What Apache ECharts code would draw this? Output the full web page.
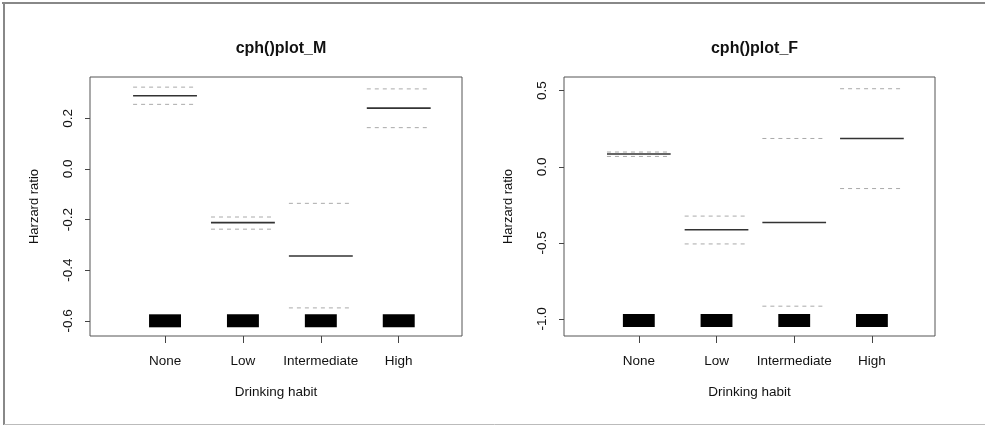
<!DOCTYPE html>
<html>
<head>
<meta charset="utf-8">
<script src="https://cdn.jsdelivr.net/npm/echarts@6/dist/echarts.min.js"></script>
<style>
html,body{margin:0;padding:0;background:#fff;}
#c{width:985px;height:425px;}
</style>
</head>
<body>
<div id="c"></div>
<script>
// ---- data ----
const categories = ['None', 'Low', 'Intermediate', 'High'];
const catPos = [1, 2, 3, 4];

const titles = ['cph()plot_M', 'cph()plot_F'];

const mEst   = [0.289, -0.212, -0.344, 0.240];
const mLower = [0.255, -0.238, -0.549, 0.163];
const mUpper = [0.323, -0.190, -0.136, 0.316];
const mBar   = [-0.6, -0.6, -0.6, -0.6];

const fEst   = [0.084, -0.414, -0.366, 0.186];
const fLower = [0.068, -0.507, -0.916, -0.143];
const fUpper = [0.097, -0.324, 0.186, 0.513];
const fBar   = [-1.01, -1.01, -1.01, -1.01];

const mYTicks = [-0.6, -0.4, -0.2, 0.0, 0.2];
const fYTicks = [-1.0, -0.5, 0.0, 0.5];
const mYRange = [-0.66, 0.363];
const fYRange = [-1.112, 0.59];
const xRange = [0.037, 4.812];

const xName = 'Drinking habit';
const yName = 'Harzard ratio';

// ---- rendering ----
const FONT = '"Liberation Sans", Arial, Helvetica, sans-serif';
const SEG_HALF = 0.41;
const BAR_HALF = 0.205;
const BAR_H = 13;

function segRender(color, width, dash) {
  return function (params, api) {
    const x = api.value(0), y = api.value(1);
    const p1 = api.coord([x - SEG_HALF, y]);
    const p2 = api.coord([x + SEG_HALF, y]);
    return {
      type: 'line',
      shape: { x1: p1[0], y1: p1[1], x2: p2[0], y2: p2[1] },
      style: { stroke: color, lineWidth: width, lineDash: dash || null }
    };
  };
}
function barRender(params, api) {
  const x = api.value(0), y = api.value(1);
  const a = api.coord([x - BAR_HALF, y]);
  const b = api.coord([x + BAR_HALF, y]);
  return {
    type: 'rect',
    shape: { x: a[0], y: a[1] - BAR_H / 2, width: b[0] - a[0], height: BAR_H },
    style: { fill: '#000' }
  };
}
function pts(vals) { return catPos.map((c, i) => [c, vals[i]]); }

const grids = [
  { left: 90, top: 77, width: 372, height: 259 },
  { left: 564, top: 77, width: 371, height: 259 }
];

function xAxisFor(gi) {
  return {
    type: 'value', gridIndex: gi, min: xRange[0], max: xRange[1], position: 'bottom',
    name: xName, nameLocation: 'middle', nameGap: 49,
    nameTextStyle: { fontFamily: FONT, fontSize: 13.5, color: '#111' },
    axisLine: { show: false, onZero: false },
    splitLine: { show: false },
    axisTick: { show: true, length: 7, lineStyle: { color: '#444', width: 1 }, customValues: catPos },
    axisLabel: {
      show: true, margin: 18, fontFamily: FONT, fontSize: 13.5, color: '#111',
      customValues: catPos,
      formatter: v => { const i = catPos.indexOf(Math.round(v)); return i >= 0 ? categories[i] : ''; }
    }
  };
}
function yAxisFor(gi, range, ticks) {
  return {
    type: 'value', gridIndex: gi, min: range[0], max: range[1], position: 'left',
    name: yName, nameLocation: 'middle', nameGap: 49, nameRotate: 90,
    nameTextStyle: { fontFamily: FONT, fontSize: 13, color: '#111' },
    axisLine: { show: false, onZero: false },
    splitLine: { show: false },
    axisTick: { show: true, length: 5, lineStyle: { color: '#444', width: 1 }, customValues: ticks },
    axisLabel: {
      show: true, rotate: 90, margin: 15, fontFamily: FONT, fontSize: 13.5, color: '#111',
      customValues: ticks,
      formatter: v => Number(v).toFixed(1)
    }
  };
}

const series = [];
[[mEst, mLower, mUpper, mBar], [fEst, fLower, fUpper, fBar]].forEach((set, gi) => {
  const [est, lo, up, bar] = set;
  series.push({ type: 'custom', xAxisIndex: gi, yAxisIndex: gi, renderItem: barRender, data: pts(bar), silent: true });
  series.push({ type: 'custom', xAxisIndex: gi, yAxisIndex: gi, renderItem: segRender('#aaa', 1, [4, 4]), data: pts(up), silent: true });
  series.push({ type: 'custom', xAxisIndex: gi, yAxisIndex: gi, renderItem: segRender('#aaa', 1, [4, 4]), data: pts(lo), silent: true });
  series.push({ type: 'custom', xAxisIndex: gi, yAxisIndex: gi, renderItem: segRender('#333', 1.6), data: pts(est), silent: true });
});

const chart = echarts.init(document.getElementById('c'), null, { renderer: 'canvas' });
chart.setOption({
  backgroundColor: '#fff',
  animation: false,
  title: grids.map((g, i) => ({
    text: titles[i], left: g.left + g.width / 2, top: 36, textAlign: 'center',
    textStyle: { fontFamily: FONT, fontSize: 16, fontWeight: 'bold', color: '#111' }
  })),
  grid: grids.map(g => Object.assign({ show: true, borderColor: '#555', borderWidth: 1, backgroundColor: 'transparent', containLabel: false, outerBoundsMode: 'none' }, g)),
  xAxis: [xAxisFor(0), xAxisFor(1)],
  yAxis: [yAxisFor(0, mYRange, mYTicks), yAxisFor(1, fYRange, fYTicks)],
  series: series,
  graphic: [
    { type: 'line', shape: { x1: 2, y1: 3, x2: 985, y2: 3 }, style: { stroke: '#888', lineWidth: 2 }, silent: true },
    { type: 'line', shape: { x1: 4, y1: 2, x2: 4, y2: 425 }, style: { stroke: '#888', lineWidth: 2 }, silent: true },
    { type: 'line', shape: { x1: 4, y1: 424.5, x2: 985, y2: 424.5 }, style: { stroke: '#bbb', lineWidth: 1 }, silent: true }
  ]
});
</script>
</body>
</html>
